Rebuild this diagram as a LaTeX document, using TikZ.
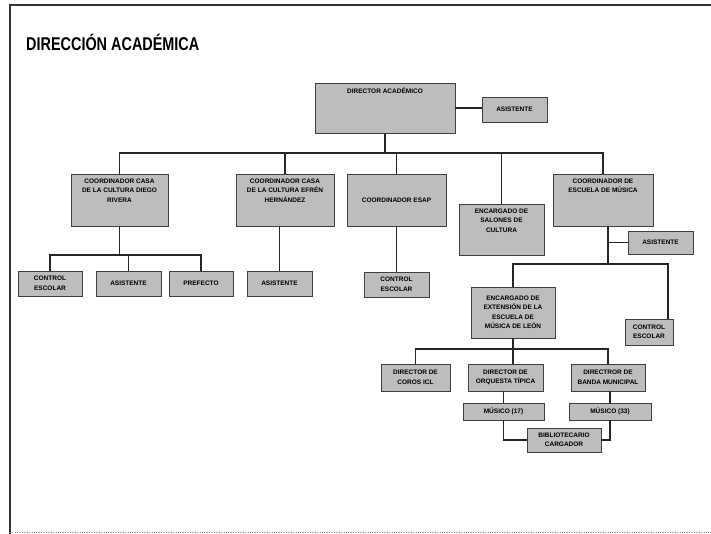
\documentclass[tikz,border=0pt]{standalone}
\usepackage{fontspec}
\setmainfont{Liberation Sans}
\newfontfamily\titlefont[FakeStretch=0.78]{Liberation Sans}
\usepackage{tikz}
\usetikzlibrary{arrows.meta}
\usetikzlibrary{backgrounds}

\begin{document}
\begin{tikzpicture}[x=1pt, y=-1pt,
        box/.style={draw=black!75, fill=black!26, line width=0.6pt, align=center, inner sep=1pt,
            font=\bfseries\fontsize{6.5}{9.5}\selectfont},
        toptext/.style={label={[anchor=north, align=center, inner sep=0pt, yshift=-5pt,
            font=\bfseries\fontsize{6.5}{9.5}\selectfont]north:#1}},
        conn/.style={line width=1.8pt, black!85}]
        \useasboundingbox (0,0) rectangle (711,534);
        \draw[line width=1.3pt, black!80] (10,534) -- (10,5) -- (711,5);
        \draw[dotted, black!50] (10,532.5) -- (711,532.5);

        \node[anchor=west, inner sep=0pt, font=\titlefont\bfseries\fontsize{18.5}{20}\selectfont] (title) at (26,42) {DIRECCIÓN ACADÉMICA};

        \node[box, minimum width=140pt, minimum height=50pt, toptext={DIRECTOR ACADÉMICO}] (dir) at (385,108) {};
        \node[box, minimum width=65pt, minimum height=25pt] (asis0) at (514.5,109.5) {ASISTENTE};
        \node[box, minimum width=97pt, minimum height=52pt, toptext={COORDINADOR CASA\\DE LA CULTURA DIEGO\\RIVERA}] (cdr) at (119.5,200) {};
        \node[box, minimum width=98pt, minimum height=52pt, toptext={COORDINADOR CASA\\DE LA CULTURA EFRÉN\\HERNÁNDEZ}] (cefh) at (285,200) {};
        \node[box, minimum width=99pt, minimum height=52pt] (cesap) at (396.5,200) {COORDINADOR ESAP};
        \node[box, minimum width=85pt, minimum height=51pt, toptext={ENCARGADO DE\\SALONES DE\\CULTURA}] (sal) at (501.5,229.5) {};
        \node[box, minimum width=100pt, minimum height=52pt, toptext={COORDINADOR DE\\ESCUELA DE MÚSICA}] (cmus) at (603,200) {};
        \node[box, minimum width=64pt, minimum height=25pt] (ce1) at (50,283.5) {CONTROL\\ESCOLAR};
        \node[box, minimum width=65pt, minimum height=25pt] (as1) at (128.5,283.5) {ASISTENTE};
        \node[box, minimum width=64pt, minimum height=25pt] (pref) at (201,283.5) {PREFECTO};
        \node[box, minimum width=65pt, minimum height=25pt] (as2) at (279.5,283.5) {ASISTENTE};
        \node[box, minimum width=65pt, minimum height=25pt] (ce2) at (396.5,284.5) {CONTROL\\ESCOLAR};
        \node[box, minimum width=65pt, minimum height=23pt] (as3) at (660.5,242.5) {ASISTENTE};
        \node[box, minimum width=84pt, minimum height=51pt] (ext) at (513,312.5) {ENCARGADO DE\\EXTENSIÓN DE LA\\ESCUELA DE\\MÚSICA DE LEÓN};
        \node[box, minimum width=48pt, minimum height=26pt] (ce3) at (649,332) {CONTROL\\ESCOLAR};
        \node[box, minimum width=69pt, minimum height=27pt] (cor) at (415.5,377.5) {DIRECTOR DE\\COROS ICL};
        \node[box, minimum width=75pt, minimum height=27pt] (orq) at (505.5,377.5) {DIRECTOR DE\\ORQUESTA TÍPICA};
        \node[box, minimum width=74pt, minimum height=27pt] (ban) at (608,377.5) {DIRECTROR DE\\BANDA MUNICIPAL};
        \node[box, minimum width=81pt, minimum height=17pt] (mus17) at (503.5,411.5) {MÚSICO (17)};
        \node[box, minimum width=82pt, minimum height=17pt] (mus33) at (610,411.5) {MÚSICO (33)};
        \node[box, minimum width=74pt, minimum height=24pt] (bib) at (564,440) {BIBLIOTECARIO\\CARGADOR};

        \coordinate (bus) at (0,153);
        \coordinate (b1) at (0,255);
        \coordinate (m1) at (608,264);
        \coordinate (m2) at (668,264);
        \coordinate (b3) at (0,349);

        \draw[conn] (dir.east) -- (asis0.west |- dir.east);
        \draw[conn] (dir.south) -- (dir.south |- bus);
        \draw[conn] (cdr.north) |- (cmus.north |- bus) -- (cmus.north);
        \draw[conn] (cefh.north) -- (cefh.north |- bus);
        \draw[conn] (cesap.north) -- (cesap.north |- bus);
        \draw[conn] (sal.north) -- (sal.north |- bus);
        \draw[conn] (cdr.south) -- (cdr.south |- b1);
        \draw[conn] (ce1.north) |- (pref.north |- b1) -- (pref.north);
        \draw[conn] (as1.north) -- (as1.north |- b1);
        \draw[conn] (as2.north) -- (as2.north |- cefh.south);
        \draw[conn] (ce2.north) -- (ce2.north |- cesap.south);
        \draw[conn] (cmus.south -| m1) -- (m1);
        \draw[conn] (as3.west) -- (as3.west -| m1);
        \draw[conn] (ext.north) |- (m2) -- (m2 |- ce3.north);
        \draw[conn] (ext.south) -- (ext.south |- orq.north);
        \draw[conn] (cor.north) |- (ban.north |- b3) -- (ban.north);
        \draw[conn] (mus17.north) -- (mus17.north |- orq.south);
        \draw[conn] (mus33.north) -- (mus33.north |- ban.south);
        \draw[conn] (mus17.south) |- (bib.west);
        \draw[conn] (mus33.south) |- (bib.east);
    \end{tikzpicture}
\end{document}
